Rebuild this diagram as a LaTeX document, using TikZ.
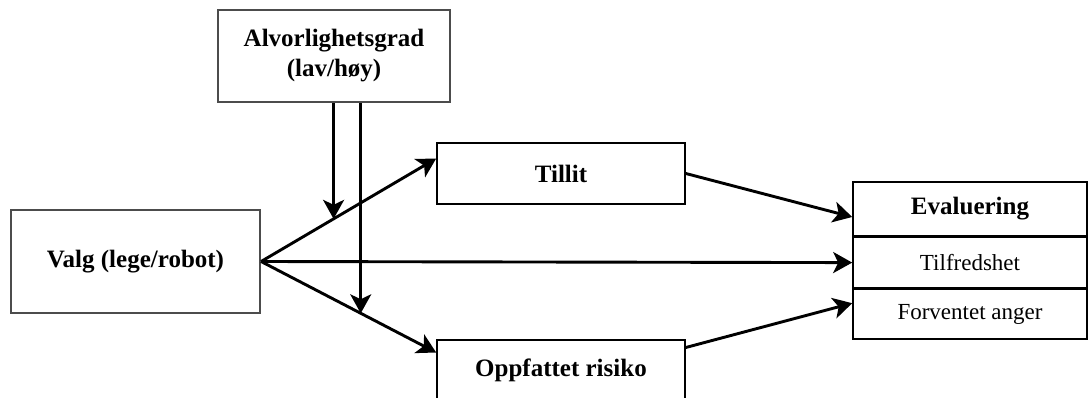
\documentclass[tikz,border=0pt]{standalone}
\usepackage{fontspec}
\setmainfont{Liberation Serif}
\usetikzlibrary{positioning,arrows.meta}

\begin{document}
\begin{tikzpicture}[
    x=1pt, y=-1pt,
    box/.style={rectangle, draw, line width=1.6pt, align=center, font=\fontsize{25}{30}\selectfont\bfseries, inner sep=0pt},
    greybox/.style={box, draw=black!70, line width=2.2pt},
    cell/.style={rectangle, draw, line width=1.6pt, align=center, minimum width=234pt, font=\fontsize{23}{28}\selectfont, inner sep=0pt},
    arr/.style={-{Stealth[length=19pt, width=21pt, inset=5pt]}, line width=2.9pt}
]

\useasboundingbox (0,0) rectangle (1089,398);

\node[greybox, minimum width=249pt, minimum height=103pt] (valg) at (135.5,261.5) {Valg (lege/robot)};
\node[greybox, minimum width=232pt, minimum height=92pt] (alvor) at (334,56) {Alvorlighetsgrad\\(lav/høy)};
\node[box, minimum width=248pt, minimum height=61pt] (tillit) at (561,173.5) {Tillit};
\node[box, minimum width=248pt, minimum height=61pt] (risiko) at (561,370.5) {Oppfattet risiko};
\node[cell, minimum height=54pt, font=\fontsize{25}{30}\selectfont\bfseries] (eval) at (970,209) {Evaluering};
\node[cell, minimum height=50pt, below=0pt of eval] (tilf) {Tilfredshet};
\node[cell, minimum height=50pt, below=0pt of tilf] (anger) {Forventet anger};

\draw[arr] (valg.east) -- coordinate[pos=0.414] (hitA) ([yshift=15pt]tillit.west);
\draw[arr] (valg.east) -- coordinate[pos=0.569] (hitB) ([yshift=18pt]risiko.west);
\draw[arr] (valg.east) -- (tilf.west);
\draw[arr] (alvor.south -| hitA) -- (hitA);
\draw[arr] (alvor.south -| hitB) -- (hitB);
\draw[arr] (tillit.east) -- ([yshift=-8pt]eval.west);
\draw[arr] ([yshift=23pt]risiko.east) -- ([yshift=11pt]anger.west);

\end{tikzpicture}
\end{document}
